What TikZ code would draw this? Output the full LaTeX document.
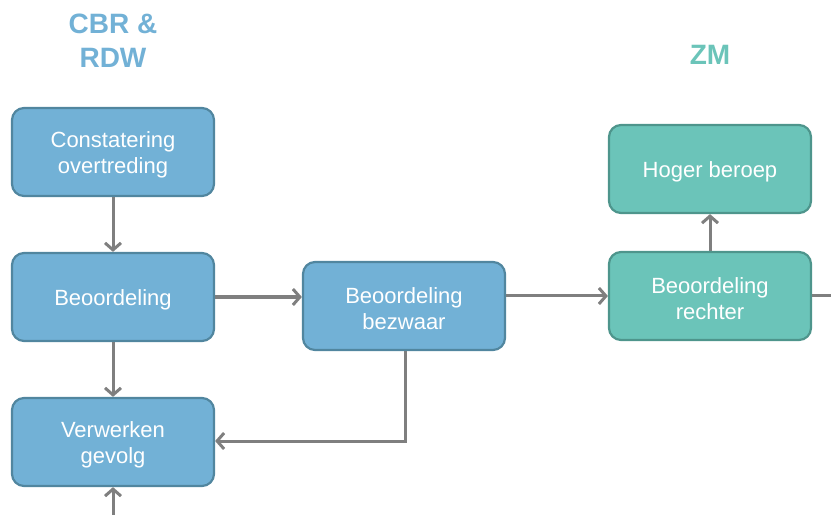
\documentclass[tikz,border=0pt]{standalone}
\usepackage{fontspec}
\setmainfont{Liberation Sans}
\usetikzlibrary{arrows.meta}
\definecolor{bluefill}{HTML}{72B1D6}
\definecolor{blueedge}{HTML}{51869F}
\definecolor{tealfill}{HTML}{6BC4B9}
\definecolor{tealedge}{HTML}{4E958C}
\definecolor{arrowgray}{HTML}{7F7F7F}
\newcommand{\lowr}[1]{\raisebox{-2.5bp}[\height][\depth]{#1}}
\tikzset{
  box/.style={rounded corners=12bp, line width=2.2bp, minimum width=202bp, minimum height=88bp,
    inner sep=0pt, align=center, text=white,
    font=\fontsize{22bp}{26bp}\selectfont},
  oneline/.style={execute at begin node={\rule{0pt}{21bp}}},
  bluebox/.style={box, fill=bluefill, draw=blueedge},
  tealbox/.style={box, fill=tealfill, draw=tealedge},
  title/.style={align=center, font=\fontsize{28bp}{34bp}\selectfont\bfseries},
  conn/.style={draw=arrowgray, line width=3bp, -{Straight Barb[length=7bp,width=16bp]}},
  plain/.style={draw=arrowgray, line width=3bp}
}
\begin{document}
\begin{tikzpicture}[x=1bp,y=-1bp]
\useasboundingbox (0,0) rectangle (831,515);
\node[title, text=bluefill] (t1) at (113,41) {CBR \&\\RDW};
\node[title, text=tealfill] (t2) at (710,55) {ZM};

\node[bluebox] (con) at (113,152) {\lowr{Constatering}\\\lowr{overtreding}};
\node[bluebox, oneline] (beo) at (113,297) {Beoordeling};
\node[bluebox] (ver) at (113,442) {\lowr{Verwerken}\\\lowr{gevolg}};
\node[bluebox] (bez) at (404,306) {\lowr{Beoordeling}\\\lowr{bezwaar}};
\node[tealbox, oneline] (hog) at (710,169) {Hoger beroep};
\node[tealbox] (rec) at (710,296) {\lowr{Beoordeling}\\\lowr{rechter}};

\coordinate (bot) at (113,515);
\coordinate (right) at (831,296);
\coordinate (corner) at (405,441);

\draw[conn] (con.south) -- (beo.north);
\draw[conn] (beo.south) -- (ver.north);
\draw[conn] (beo.east) -- (beo.east -| bez.west);
\draw[conn] (bez.east |- rec.west) -- (rec.west);
\draw[conn] (bez.south -| corner) -- (corner) -- (corner -| ver.east);
\draw[conn] (rec.north) -- (hog.south);
\draw[plain] (rec.east) -- (right);
\draw[conn] (bot) -- (ver.south);
\end{tikzpicture}
\end{document}
